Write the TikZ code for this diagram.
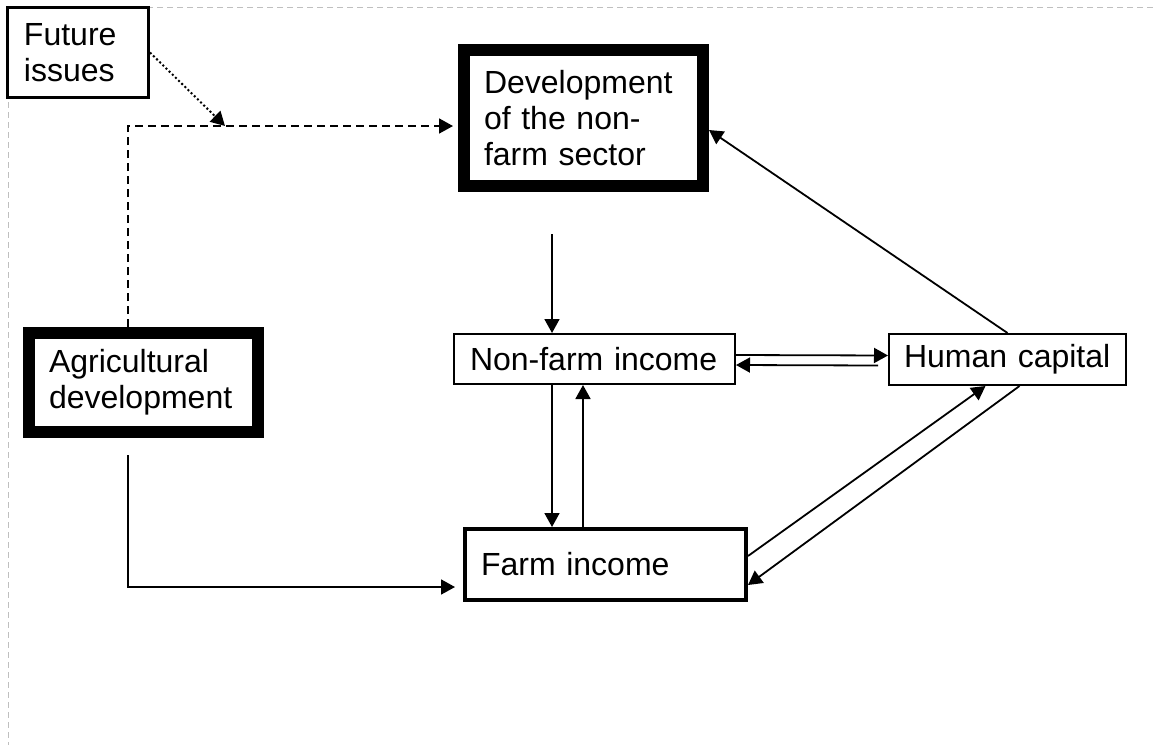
\documentclass[tikz,border=0pt]{standalone}
\usepackage{fontspec}
\setmainfont{Liberation Sans}
\usetikzlibrary{arrows.meta,calc}
\begin{document}
\begin{tikzpicture}[x=0.5pt,y=-0.5pt,
  box/.style={draw, fill=white, rectangle, align=left, anchor=center, inner ysep=0pt,
    font=\fontsize{16}{18}\selectfont},
  tip/.style={-{Triangle[length=7pt,width=7.5pt]}},
  arr/.style={line width=0.9pt, tip},
  frame/.style={draw=black!25, line width=0.5pt, dash pattern=on 3pt off 2pt}]
\useasboundingbox (0,0) rectangle (1153,745);
\draw[frame] (1153,7) -- (8,7) -- (8,745);

\node[box, line width=1.5pt, minimum width=70.5pt, minimum height=45pt, text width=54pt, inner xsep=8.25pt] (fut) at (78,52.5) {Future\\issues};
\node[box, line width=6pt, minimum width=119.5pt, minimum height=68pt, text width=99.5pt, inner xsep=10pt] (dev) at (583.5,118) {Development\\of the non-\\farm sector};
\node[box, line width=6pt, minimum width=114.5pt, minimum height=49.5pt, text width=94.5pt, inner xsep=10pt] (agri) at (143.5,382.5) {Agricultural\\development};
\node[box, line width=1pt, minimum width=140.5pt, minimum height=25pt, text width=124.5pt, inner xsep=8pt] (nf) at (594.5,359) {Non-farm income};
\node[box, line width=1pt, minimum width=118.5pt, minimum height=25.5pt, text width=103.5pt, inner xsep=7.5pt] (hc) at (1007.5,359.5) {Human capital};
\node[box, line width=2pt, minimum width=140.5pt, minimum height=35.5pt, text width=124.5pt, inner xsep=8pt] (farm) at (605.5,564.5) {Farm income};

% coordinates for free ends
\coordinate (c1) at (552,234);
\coordinate (c2) at (583,0);
\coordinate (a1) at ($(agri.south)+(-15.5,17)$);
\coordinate (a2) at ($(farm.west)+(-8,22.5)$);
\coordinate (d1) at ($(agri.north)+(-15.5,0)$);
\coordinate (d2) at ($(dev.west)+(-5,8)$);
\coordinate (j) at (225,126);

% connectors
\draw[arr] (c1) -- (c1 |- nf.north);
\draw[arr] ($(nf.east)+(0,-4)$) -- ($(hc.west)+(0,-4)$);
\draw[arr] ($(hc.west)+(-10,6)$) -- ($(nf.east)+(0,6)$);
\draw[arr] (hc.north) -- ($(dev.east)+(0,12)$);
\draw[arr] (nf.south -| c1) -- (farm.north -| c1);
\draw[arr] (farm.north -| c2) -- (nf.south -| c2);
\draw[arr] ($(farm.east)+(0,-8.5)$) -- ($(hc.south)+(-22,0)$);
\draw[arr] ($(hc.south)+(12,0)$) -- ($(farm.east)+(0,20.5)$);
\draw[arr] (a1) |- (a2);
\draw[arr, dash pattern=on 4pt off 2.5pt] (d1) |- (d2);
\draw[line width=1pt, dash pattern=on 1pt off 1.2pt, tip] (fut.east) -- (j);
\end{tikzpicture}
\end{document}
